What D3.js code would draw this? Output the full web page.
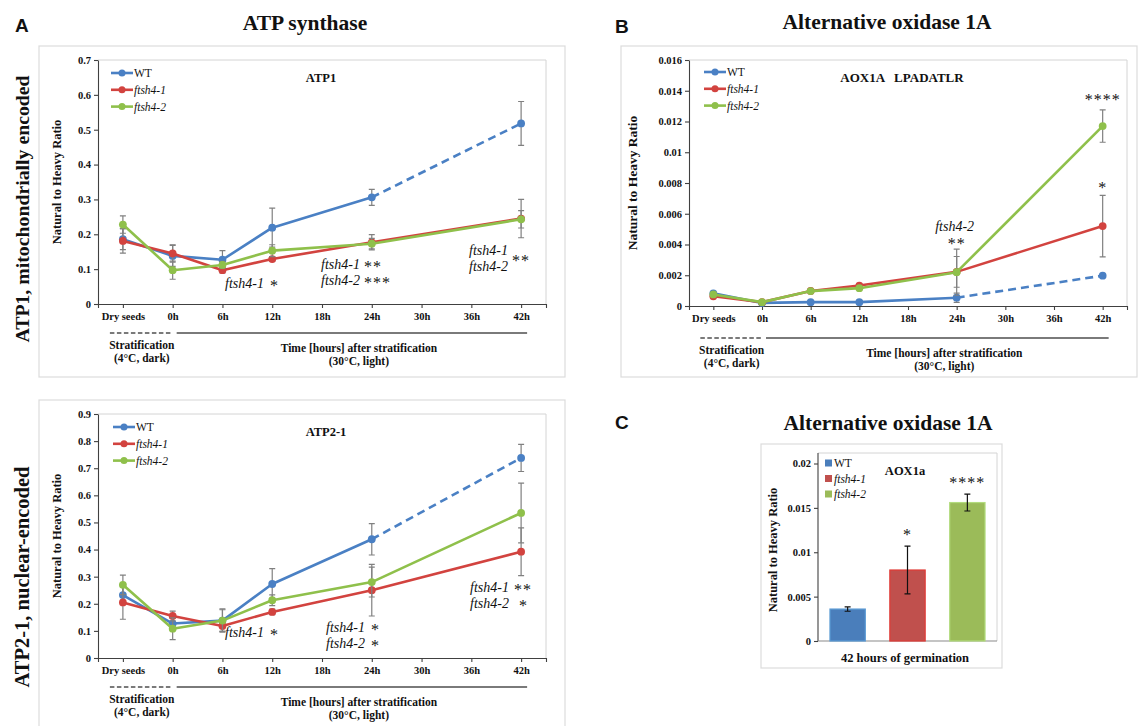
<!DOCTYPE html>
<html>
<head>
<meta charset="utf-8">
<script src="https://cdn.jsdelivr.net/npm/d3@7"></script>
<style>
  body { margin: 0; background: #fff; }
  svg text { font-family: "Liberation Serif", "Times New Roman", serif; fill: #111; }
  svg text.letter { font-family: "Liberation Sans", Arial, sans-serif; }
  .axis text { font-weight: bold; font-size: 10.5px; }
  .axis path, .axis line { stroke: #404040; stroke-width: 1.1; }
  .box { fill: none; stroke: #dcdcdc; stroke-width: 1.2; }
  .frame { fill: none; stroke: #d4d4d4; stroke-width: 1; }
  .err { stroke: #808080; stroke-width: 1.2; fill: none; }
</style>
</head>
<body>
<svg id="fig" width="1138" height="726"></svg>
<script>
// ---- data ----
var categories = ["Dry seeds", "0h", "6h", "12h", "18h", "24h", "30h", "36h", "42h"];
var sampledAt = ["Dry seeds", "0h", "6h", "12h", "24h", "42h"];
var seriesNames = ["WT", "ftsh4-1", "ftsh4-2"];

// ATP1 (mitochondrially encoded)
var atp1WT = [0.186, 0.138, 0.127, 0.219, 0.306, 0.518];
var atp1WTErr = [0.030, 0.030, 0.026, 0.056, 0.023, 0.063];
var atp1F1 = [0.181, 0.145, 0.097, 0.129, 0.177, 0.245];
var atp1F1Err = [0.035, 0.025, 0.008, 0.006, 0.022, 0.055];
var atp1F2 = [0.228, 0.097, 0.112, 0.153, 0.173, 0.243];
var atp1F2Err = [0.025, 0.026, 0.010, 0.017, 0.015, 0.025];
var atp1Ticks = [0, 0.1, 0.2, 0.3, 0.4, 0.5, 0.6, 0.7];

// ATP2-1 (nuclear-encoded)
var atp2WT = [0.232, 0.127, 0.138, 0.273, 0.438, 0.738];
var atp2WTErr = [0.030, 0.020, 0.040, 0.057, 0.058, 0.050];
var atp2F1 = [0.205, 0.155, 0.118, 0.170, 0.250, 0.392];
var atp2F1Err = [0.062, 0.018, 0.020, 0.010, 0.095, 0.088];
var atp2F2 = [0.270, 0.108, 0.138, 0.213, 0.280, 0.535];
var atp2F2Err = [0.036, 0.040, 0.043, 0.020, 0.055, 0.110];
var atp2Ticks = [0, 0.1, 0.2, 0.3, 0.4, 0.5, 0.6, 0.7, 0.8, 0.9];

// AOX1A LPADATLR
var aoxWT = [0.00082, 0.00020, 0.00025, 0.00025, 0.00054, 0.00197];
var aoxWTErr = [0.00005, 0.00003, 0.00003, 0.00003, 0.00030, 0];
var aoxF1 = [0.00063, 0.00025, 0.00098, 0.00133, 0.00222, 0.00520];
var aoxF1Err = [0.00005, 0.00003, 0.00005, 0.00008, 0.00100, 0.00200];
var aoxF2 = [0.00075, 0.00025, 0.00097, 0.00116, 0.00220, 0.01170];
var aoxF2Err = [0.00005, 0.00003, 0.00005, 0.00006, 0.00150, 0.00105];
var aoxTicks = [0, 0.002, 0.004, 0.006, 0.008, 0.01, 0.012, 0.014, 0.016];

// AOX1a at 42 h (bars)
var barValues = [0.0036, 0.0080, 0.0156];
var barErr = [0.00025, 0.0027, 0.00095];
var barStars = ["", "*", "****"];
var barTicks = [0, 0.005, 0.01, 0.015, 0.02];

var lineColors = ["#4a80c4", "#d2433f", "#8fc04b"];
var barFill = ["#4a7ebb", "#c0504d", "#9bbb59"];
var barStroke = ["#5b9bd5", "#e03a36", "#b3dc7e"];

var svg = d3.select("#fig");
var fmt = d3.format("~g");

function vtext(g, x, y, txt, size, bold) {
  g.append("text")
    .attr("transform", "translate(" + x + "," + y + ") rotate(-90)")
    .attr("text-anchor", "middle").attr("dy", "0.35em")
    .attr("font-size", size).attr("font-weight", bold ? "bold" : "normal")
    .text(txt);
}

function label(g, x, y, txt, size, opts) {
  opts = opts || {};
  return g.append("text").attr("x", x).attr("y", y).attr("dy", "0.35em")
    .attr("font-size", size)
    .attr("text-anchor", opts.anchor || "start")
    .attr("font-weight", opts.bold ? "bold" : "normal")
    .attr("font-style", opts.italic ? "italic" : "normal")
    .style("white-space", "pre")
    .text(txt);
}

function stars(g, x, y, txt, anchor) {
  g.append("text").attr("x", x).attr("y", y).attr("dy", "0.52em")
    .attr("font-size", 16).attr("letter-spacing", 1)
    .attr("text-anchor", anchor || "start").text(txt);
}

function linePanel(o) {
  var g = svg.append("g");
  g.append("rect").attr("class", "box")
    .attr("x", o.box[0]).attr("y", o.box[1])
    .attr("width", o.box[2] - o.box[0]).attr("height", o.box[3] - o.box[1]);

  var x = d3.scalePoint().domain(categories).range(o.xr).padding(0.5);
  var y = d3.scaleLinear().domain([0, o.ymax]).range([o.y0, o.y1]);

  g.append("path").attr("class", "frame")
    .attr("d", "M" + o.xr[0] + "," + o.y1 + "H" + o.xr[1] + "V" + o.y0);

  g.append("g").attr("class", "axis")
    .attr("transform", "translate(" + o.xr[0] + ",0)")
    .call(d3.axisLeft(y).tickValues(o.ticks).tickFormat(fmt)
      .tickSize(4).tickSizeOuter(0).tickPadding(3));

  g.append("g").attr("class", "axis")
    .attr("transform", "translate(0," + o.y0 + ")")
    .call(d3.axisBottom(x).tickSize(4).tickSizeOuter(4).tickPadding(5));

  // series
  var line = d3.line().x(function (d) { return x(d.c); }).y(function (d) { return y(d.v); });
  o.series.forEach(function (s, i) {
    var pts = sampledAt.map(function (c, k) { return { c: c, v: s.vals[k], e: s.errs[k] }; });
    pts.forEach(function (p) {
      if (!p.e) return;
      var cx = x(p.c), t = y(p.v + p.e), b = y(p.v - p.e);
      g.append("path").attr("class", "err")
        .attr("d", "M" + cx + "," + t + "V" + b + "M" + (cx - 3) + "," + t + "H" + (cx + 3) +
          "M" + (cx - 3) + "," + b + "H" + (cx + 3));
    });
    var solid = s.dashLast ? pts.slice(0, -1) : pts;
    g.append("path").datum(solid).attr("d", line)
      .attr("fill", "none").attr("stroke", lineColors[i]).attr("stroke-width", 2.6)
      .attr("stroke-linejoin", "round");
    if (s.dashLast) {
      g.append("path").datum(pts.slice(-2)).attr("d", line)
        .attr("fill", "none").attr("stroke", lineColors[i]).attr("stroke-width", 2.6)
        .attr("stroke-dasharray", "8,5");
    }
    g.selectAll(null).data(pts).enter().append("circle")
      .attr("cx", function (d) { return x(d.c); })
      .attr("cy", function (d) { return y(d.v); })
      .attr("r", 3.9).attr("fill", lineColors[i]);
  });

  // legend
  seriesNames.forEach(function (n, i) {
    var ly = o.legend[1] + i * 16.8, lx = o.legend[0];
    g.append("line").attr("x1", lx).attr("x2", lx + 22).attr("y1", ly).attr("y2", ly)
      .attr("stroke", lineColors[i]).attr("stroke-width", 2.6);
    g.append("circle").attr("cx", lx + 11).attr("cy", ly).attr("r", 3.5).attr("fill", lineColors[i]);
    label(g, lx + 23, ly, n, 11.5, { italic: i > 0 });
  });

  label(g, o.inner[0], o.inner[1], o.inner[2], o.inner[3], { bold: true, anchor: "middle" });
  vtext(g, o.ytitleX, (o.y0 + o.y1) / 2, "Natural to Heavy Ratio", o.ytitleSize, true);

  // stage bar under the axis
  var sy = o.y0 + o.stageDy;
  g.append("line").attr("x1", x("Dry seeds") - 13).attr("x2", x("0h") - 1)
    .attr("y1", sy).attr("y2", sy).attr("stroke", "#7a7a7a").attr("stroke-width", 2)
    .attr("stroke-dasharray", "4.5,2.5");
  g.append("line").attr("x1", x("0h") + 4).attr("x2", x("42h") + 6)
    .attr("y1", sy).attr("y2", sy).attr("stroke", "#7a7a7a").attr("stroke-width", 2);
  var sx = (x("Dry seeds") + x("0h")) / 2 - 6;
  label(g, sx, sy + 12, "Stratification", 11.5, { bold: true, anchor: "middle" });
  label(g, sx, sy + 25, "(4°C, dark)", 11.5, { bold: true, anchor: "middle" });
  var tx = (x("0h") + x("42h")) / 2 + 12;
  label(g, tx, sy + 15, "Time [hours] after stratification", 11.5, { bold: true, anchor: "middle" });
  label(g, tx, sy + 28, "(30°C, light)", 11.5, { bold: true, anchor: "middle" });

  return { g: g, x: x, y: y };
}

// ---- Panel A, ATP1 ----
var pA1 = linePanel({
  box: [39, 46, 565, 377], xr: [98, 546], y0: 304, y1: 60, ymax: 0.7, ticks: atp1Ticks,
  series: [
    { vals: atp1WT, errs: atp1WTErr, dashLast: true },
    { vals: atp1F1, errs: atp1F1Err },
    { vals: atp1F2, errs: atp1F2Err }
  ],
  legend: [111, 73], inner: [321, 78, "ATP1", 12.5], ytitleX: 57, ytitleSize: 12.5, stageDy: 29
});
label(pA1.g, 225, 283, "ftsh4-1", 14, { italic: true }); stars(pA1.g, 270, 283, "*");
label(pA1.g, 321, 264, "ftsh4-1", 14, { italic: true }); stars(pA1.g, 364, 264, "**");
label(pA1.g, 321, 280, "ftsh4-2", 14, { italic: true }); stars(pA1.g, 364, 280, "***");
label(pA1.g, 469, 250, "ftsh4-1", 14, { italic: true });
label(pA1.g, 469, 266, "ftsh4-2", 14, { italic: true }); stars(pA1.g, 512, 258, "**");

// ---- Panel A, ATP2-1 ----
var pA2 = linePanel({
  box: [39, 400, 565, 731], xr: [98, 546], y0: 658, y1: 414, ymax: 0.9, ticks: atp2Ticks,
  series: [
    { vals: atp2WT, errs: atp2WTErr, dashLast: true },
    { vals: atp2F1, errs: atp2F1Err },
    { vals: atp2F2, errs: atp2F2Err }
  ],
  legend: [113, 427], inner: [326, 432, "ATP2-1", 12.5], ytitleX: 57, ytitleSize: 12.5, stageDy: 29
});
label(pA2.g, 225, 632, "ftsh4-1", 14, { italic: true }); stars(pA2.g, 270, 632, "*");
label(pA2.g, 326, 627, "ftsh4-1", 14, { italic: true }); stars(pA2.g, 371, 627, "*");
label(pA2.g, 326, 643, "ftsh4-2", 14, { italic: true }); stars(pA2.g, 371, 643, "*");
label(pA2.g, 470, 587, "ftsh4-1", 14, { italic: true }); stars(pA2.g, 514, 587, "**");
label(pA2.g, 470, 603, "ftsh4-2", 14, { italic: true }); stars(pA2.g, 519, 603, "*");

// ---- Panel B, AOX1A LPADATLR ----
var pB = linePanel({
  box: [621, 46, 1137, 377], xr: [689, 1127], y0: 306, y1: 60, ymax: 0.016, ticks: aoxTicks,
  series: [
    { vals: aoxWT, errs: aoxWTErr, dashLast: true },
    { vals: aoxF1, errs: aoxF1Err },
    { vals: aoxF2, errs: aoxF2Err }
  ],
  legend: [704, 72], inner: [902, 77, "AOX1A   LPADATLR", 13], ytitleX: 632, ytitleSize: 13.5, stageDy: 32
});
label(pB.g, pB.x("24h") - 2, 226, "ftsh4-2", 14, { italic: true, anchor: "middle" });
stars(pB.g, pB.x("24h"), 241, "**", "middle");
stars(pB.g, pB.x("42h"), 97, "****", "middle");
stars(pB.g, pB.x("42h"), 185, "*", "middle");

// ---- Panel C, bars ----
(function () {
  var g = svg.append("g");
  g.append("rect").attr("class", "box").attr("x", 761).attr("y", 444).attr("width", 241).attr("height", 224);
  var x = d3.scaleBand().domain(seriesNames).range([818, 997]).paddingInner(0.41).paddingOuter(0.2);
  var y = d3.scaleLinear().domain([0, 0.02]).range([641, 463.5]);
  g.append("path").attr("class", "frame").attr("d", "M818,453H997V641");
  g.append("g").attr("class", "axis").attr("transform", "translate(818,0)")
    .call(d3.axisLeft(y).tickValues(barTicks).tickFormat(fmt).tickSize(4).tickSizeOuter(0).tickPadding(3))
    .select(".domain").attr("d", "M0,453V641");
  g.append("line").attr("x1", 818).attr("x2", 997).attr("y1", 641).attr("y2", 641)
    .attr("stroke", "#8a8a8a").attr("stroke-width", 1.1);

  g.selectAll(null).data(barValues).enter().append("rect")
    .attr("x", function (d, i) { return x(seriesNames[i]); })
    .attr("y", function (d) { return y(d); })
    .attr("width", x.bandwidth())
    .attr("height", function (d) { return y(0) - y(d); })
    .attr("fill", function (d, i) { return barFill[i]; })
    .attr("stroke", function (d, i) { return barStroke[i]; }).attr("stroke-width", 1.2);

  barValues.forEach(function (v, i) {
    var cx = x(seriesNames[i]) + x.bandwidth() / 2, t = y(v + barErr[i]), b = y(v - barErr[i]);
    g.append("path").attr("fill", "none").attr("stroke", "#111").attr("stroke-width", 1.2)
      .attr("d", "M" + cx + "," + t + "V" + b + "M" + (cx - 3) + "," + t + "H" + (cx + 3) +
        "M" + (cx - 3) + "," + b + "H" + (cx + 3));
    if (barStars[i]) stars(g, cx, t - 14, barStars[i], "middle");
  });

  seriesNames.forEach(function (n, i) {
    var ly = 463 + i * 15.5;
    g.append("rect").attr("x", 825).attr("y", ly - 3.5).attr("width", 7).attr("height", 7).attr("fill", barFill[i]);
    label(g, 834, ly, n, 11.5, { italic: i > 0 });
  });
  label(g, 905, 471, "AOX1a", 12.5, { bold: true, anchor: "middle" });
  label(g, 905, 658, "42 hours of germination", 12.5, { bold: true, anchor: "middle" });
  vtext(g, 773, 550, "Natural to Heavy Ratio", 12.5, true);
})();

// ---- titles and panel letters ----
label(svg, 305, 22, "ATP synthase", 21.5, { bold: true, anchor: "middle" });
label(svg, 887, 21, "Alternative oxidase 1A", 21.5, { bold: true, anchor: "middle" });
label(svg, 888, 422, "Alternative oxidase 1A", 21.5, { bold: true, anchor: "middle" });
vtext(svg, 22, 209, "ATP1, mitochondrially encoded", 19.8, true);
vtext(svg, 22, 577, "ATP2-1, nuclear-encoded", 20.5, true);
["A", "B", "C"].forEach(function (t, i) {
  svg.append("text").attr("class", "letter")
    .attr("x", [15, 615, 615][i]).attr("y", [32, 33, 429][i])
    .attr("font-weight", "bold").attr("font-size", 19).text(t);
});
</script>
</body>
</html>
